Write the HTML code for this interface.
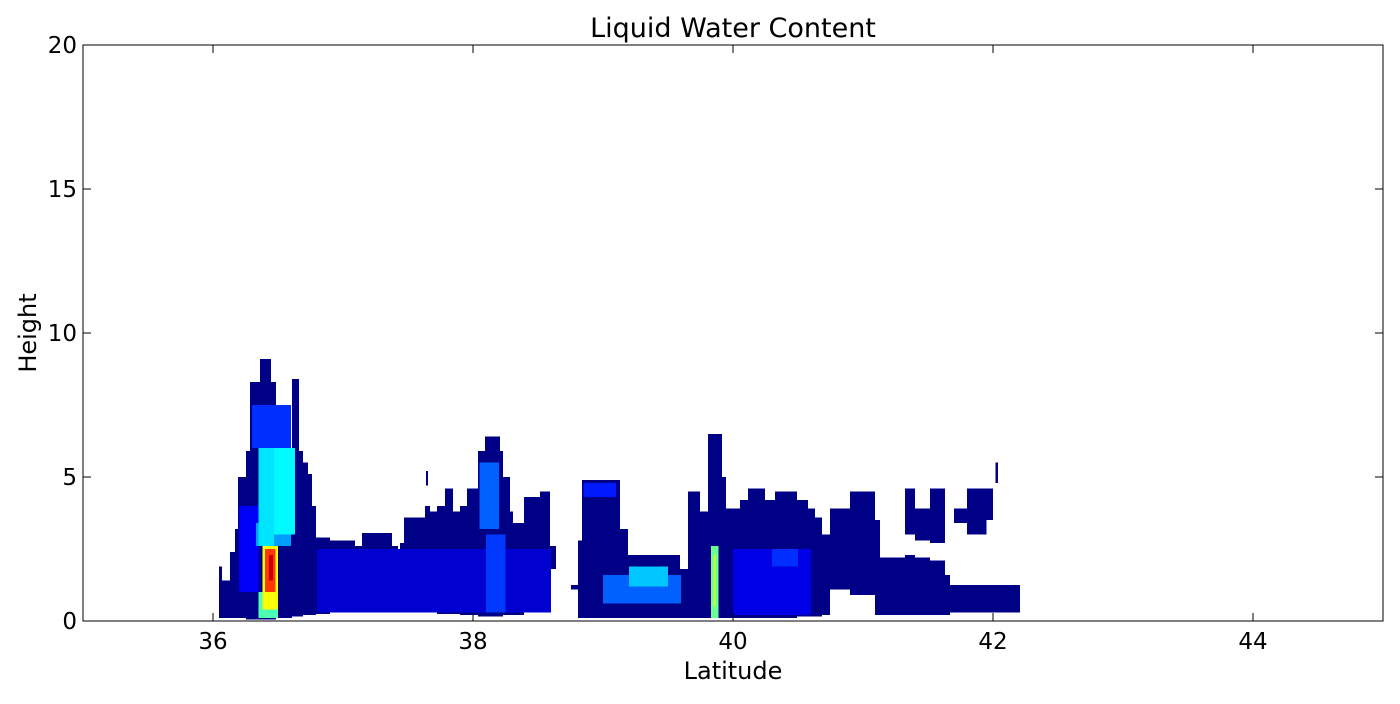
<!DOCTYPE html>
<html><head><meta charset="utf-8"><style>
body{margin:0;background:#fff;font-family:"DejaVu Sans",sans-serif}
svg text{font-family:"DejaVu Sans","Liberation Sans",sans-serif;fill:#000}
</style></head><body>
<svg id="chart" width="1400" height="700" viewBox="0 0 1400 700" xmlns="http://www.w3.org/2000/svg">
<text x="733" y="37" font-size="27" text-anchor="middle">Liquid Water Content</text>
<text x="733" y="679" font-size="24" text-anchor="middle">Latitude</text>
<text x="36" y="333" font-size="24" text-anchor="middle" transform="rotate(-90 36 333)">Height</text>
<g id="cells"></g>
<g id="axes"></g>
</svg>
<script>
const xTicks=[36,38,40,42,44];
const yTicks=[0,5,10,15,20];
// cloud columns: lat start, lat end, base height, top height (navy background)
const colLat0=[36.046,36.069,36.131,36.169,36.192,36.254,36.285,36.362,36.446,36.485,36.515,36.569,36.592,36.608,36.662,36.692,36.731,36.762,36.792,36.9,37.092,37.146,37.377,37.438,37.469,37.631,37.669,37.723,37.785,37.846,37.9,37.954,38.038,38.092,38.208,38.231,38.285,38.308,38.392,38.515,38.592,38.754,38.808,38.838,39.131,39.192,39.592,39.654,39.746,39.808,39.915,39.946,40.054,40.115,40.246,40.323,40.492,40.577,40.631,40.685,40.746,40.9,41.092,41.131,41.323,41.4,41.515,41.631,41.669,41.323,41.4,41.515,41.7,41.8,41.95,42.02,37.64];
const colLat1=[36.069,36.131,36.169,36.192,36.254,36.285,36.362,36.446,36.485,36.515,36.569,36.592,36.608,36.662,36.692,36.731,36.762,36.792,36.9,37.092,37.146,37.377,37.423,37.469,37.631,37.669,37.723,37.785,37.846,37.9,37.954,38.038,38.092,38.208,38.231,38.285,38.308,38.392,38.515,38.592,38.638,38.808,38.838,39.131,39.192,39.592,39.654,39.746,39.808,39.915,39.946,40.054,40.115,40.246,40.323,40.492,40.577,40.631,40.685,40.746,40.9,41.092,41.131,41.323,41.4,41.515,41.631,41.669,42.208,41.4,41.515,41.631,41.8,41.95,42.0,42.04,37.655];
const colBase=[0.1,0.1,0.1,0.1,0.1,0.05,0.05,0.05,0.05,0.1,0.1,0.1,0.1,0.15,0.15,0.2,0.2,0.2,0.25,0.3,0.3,0.35,0.35,0.3,0.3,0.3,0.3,0.25,0.25,0.25,0.2,0.2,0.15,0.15,0.15,0.2,0.2,0.2,0.5,0.6,1.8,1.1,0.1,0.1,0.1,0.1,0.1,0.1,0.1,0.1,0.1,0.1,0.1,0.1,0.1,0.1,0.15,0.15,0.15,0.2,1.1,0.9,0.2,0.2,0.2,0.2,0.2,0.2,0.3,3.0,2.8,2.7,3.4,3.0,3.5,4.8,4.7];
const colTop=[1.9,1.4,2.4,3.2,5.0,5.9,8.3,9.1,8.3,7.0,5.9,7.2,5.9,8.4,5.9,5.5,5.1,4.0,2.9,2.8,2.6,3.05,2.6,2.7,3.6,4.0,3.8,4.0,4.6,3.8,4.0,4.6,5.9,6.4,5.9,5.0,3.8,3.4,4.3,4.5,2.6,1.25,2.8,4.9,3.2,2.3,1.8,4.5,3.8,6.5,5.0,3.9,4.2,4.6,4.2,4.5,4.2,3.9,3.6,3.0,3.9,4.5,3.5,2.2,2.3,2.2,2.1,1.6,1.25,4.6,3.9,4.6,3.9,4.6,4.6,5.5,5.2];
// intensity patches: lat start, lat end, h0, h1, normalized value
const hotLat0=[36.2,36.8,38.1,40.0,38.85,36.3,36.33,36.35,36.47,36.35,36.38,36.4,36.43,38.05,39.0,39.2,39.83,39.85,40.3];
const hotLat1=[36.35,38.6,38.25,40.6,39.1,36.6,36.6,36.47,36.63,36.5,36.5,36.48,36.46,38.2,39.6,39.5,39.89,39.87,40.5];
const hotH0=[1.0,0.3,0.3,0.2,4.3,6.0,2.6,2.6,3.0,0.1,0.4,1.0,1.4,3.2,0.6,1.2,0.1,0.5,1.9];
const hotH1=[4.0,2.5,3.0,2.5,4.8,7.5,3.4,6.0,6.0,1.0,2.6,2.5,2.3,5.5,1.6,1.9,2.6,2.3,2.5];
const hotVal=[0.12,0.08,0.18,0.1,0.15,0.17,0.28,0.35,0.37,0.45,0.62,0.82,0.93,0.22,0.22,0.32,0.48,0.56,0.17];

const X0=83,X1=1383,Y0=621,Y1=45;
const xs=v=>X0+(v-35)/10*(X1-X0);
const ys=v=>Y0-(v-0)/20*(Y0-Y1);
const cl=t=>Math.max(0,Math.min(1,t));
function jet(v){const r=cl(1.5-Math.abs(4*v-3)),g=cl(1.5-Math.abs(4*v-2)),b=cl(1.5-Math.abs(4*v-1));
return `rgb(${Math.round(r*255)},${Math.round(g*255)},${Math.round(b*255)})`;}
const NS='http://www.w3.org/2000/svg';
const cells=document.getElementById('cells');
function rect(x0,x1,h0,h1,fill,name){
 const r=document.createElementNS(NS,'rect');
 r.setAttribute('x',xs(x0));r.setAttribute('width',Math.max(0.5,xs(x1)-xs(x0)));
 r.setAttribute('y',ys(h1));r.setAttribute('height',ys(h0)-ys(h1));
 r.setAttribute('fill',fill);
 r.setAttribute('shape-rendering','crispEdges');
 
 
 cells.appendChild(r);}
for(let i=0;i<colLat0.length;i++) rect(colLat0[i],colLat1[i],colBase[i],colTop[i],'rgb(0,0,135)','cloud-column');
for(let i=0;i<hotLat0.length;i++) rect(hotLat0[i],hotLat1[i],hotH0[i],hotH1[i],jet(hotVal[i]),'intensity-cell');

const ax=document.getElementById('axes');
function el(tag,attrs,text){const e=document.createElementNS(NS,tag);for(const k in attrs)e.setAttribute(k,attrs[k]);if(text!==undefined)e.textContent=text;ax.appendChild(e);return e;}
const frame=el('rect',{x:X0,y:Y1,width:X1-X0,height:Y0-Y1,fill:'none',stroke:'#000','stroke-width':1});


xTicks.forEach(t=>{const x=xs(t);
 const a=el('line',{x1:x,x2:x,y1:Y0,y2:Y0-8,stroke:'#000'});
 
 
 const b=el('line',{x1:x,x2:x,y1:Y1,y2:Y1+8,stroke:'#000'});
 
 
 const l=el('text',{x:x,y:649,'font-size':23,'text-anchor':'middle'},String(t));
 
 });
yTicks.forEach(t=>{const y=ys(t);
 const a=el('line',{x1:X0,x2:X0+8,y1:y,y2:y,stroke:'#000'});
 
 
 const b=el('line',{x1:X1,x2:X1-8,y1:y,y2:y,stroke:'#000'});
 
 
 const l=el('text',{x:77,y:y+8,'font-size':23,'text-anchor':'end'},String(t));
 
 });
</script>
</body></html>
